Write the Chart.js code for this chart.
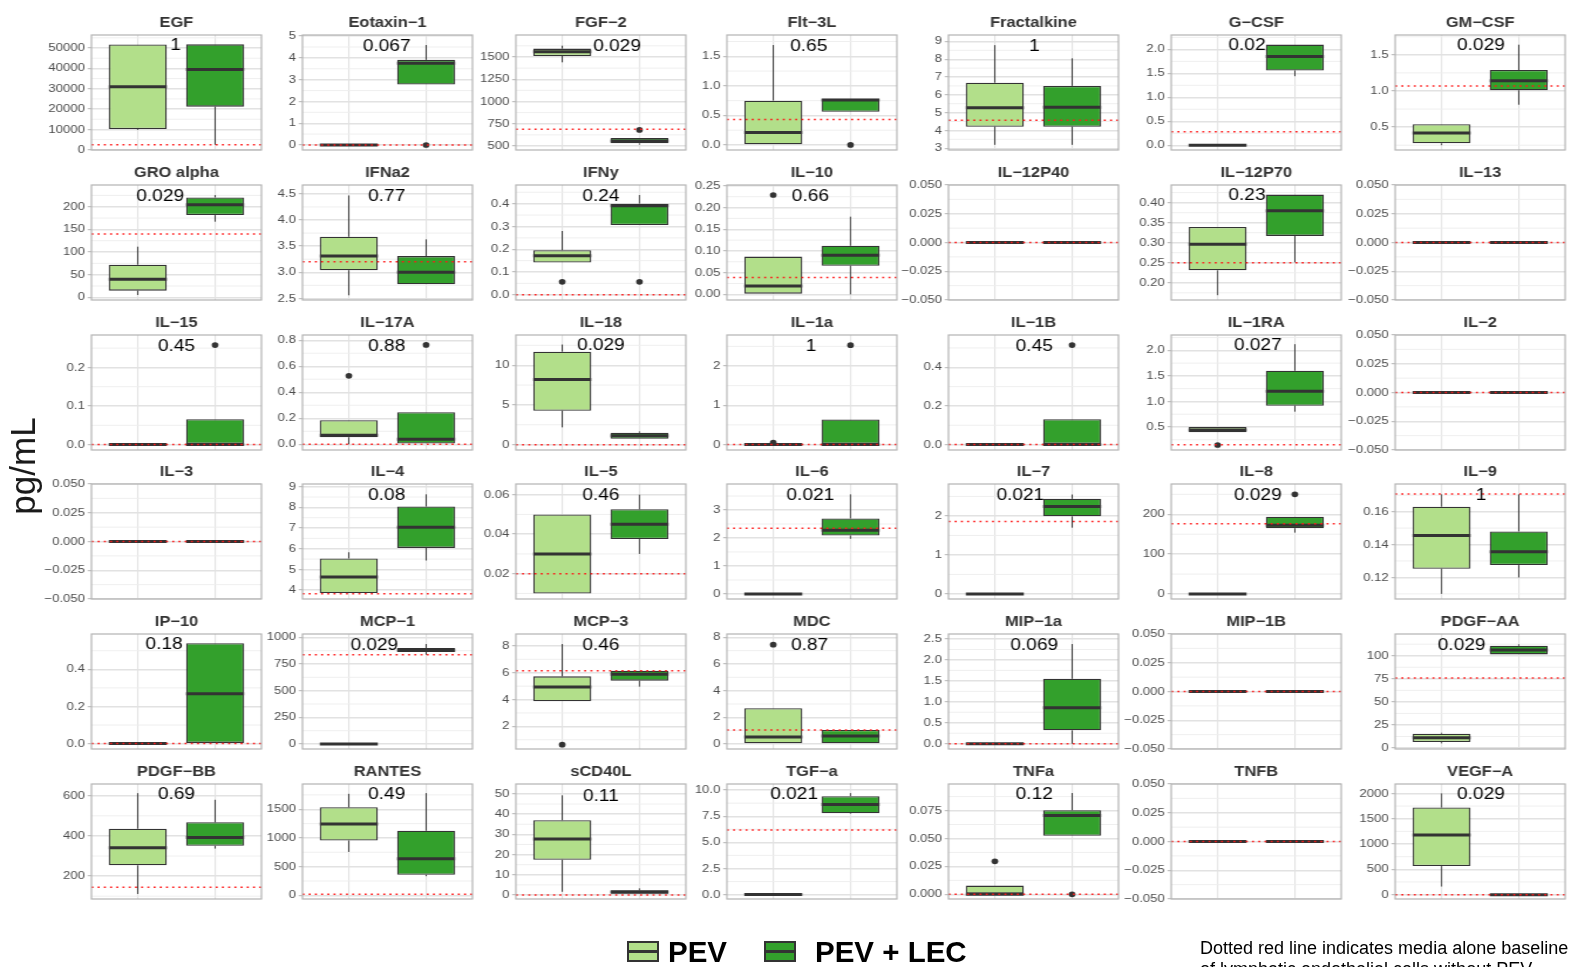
<!DOCTYPE html>
<html>
<head>
<meta charset="utf-8">
<title>Cytokine panel</title>
<script src="https://cdn.jsdelivr.net/npm/chart.js@4.4.1/dist/chart.umd.min.js"></script>
<style>
  html, body { margin: 0; padding: 0; background: #fff; }
  body { width: 1569px; height: 967px; position: relative; overflow: hidden;
         font-family: 'Liberation Sans', Arial, sans-serif; }
  #grid { position: absolute; left: 0; top: 0; height: 967px; transform-origin: 0 0; }
  #grid canvas { position: absolute; }
  #ylab { position: absolute; left: -37px; top: 446px; width: 120px; height: 40px;
          line-height: 40px; text-align: center; font-size: 35px; color: #1a1a1a;
          transform: rotate(-90deg); white-space: nowrap; }
  .key { position: absolute; top: 941px; width: 28px; height: 17px; border: 2px solid #333; }
  .key::after { content: ''; position: absolute; left: 0; right: 0; top: 7px; height: 3px; background: #333; }
  .ltxt { position: absolute; top: 935.5px; font-size: 29.5px; font-weight: bold;
          line-height: 1.117; color: #000; white-space: nowrap; }
  .note { position: absolute; left: 1200px; top: 938.3px; font-size: 18px; line-height: 21px;
          color: #000; white-space: nowrap; }
</style>
</head>
<body>
<div id="grid"></div>
<div id="ylab">pg/mL</div>
<div class="key" style="left:627px;background:#b2df8a"></div>
<div class="ltxt" style="left:668px">PEV</div>
<div class="key" style="left:764px;background:#33a02c"></div>
<div class="ltxt" style="left:815px">PEV + LEC</div>
<div class="note">Dotted red line indicates media alone baseline<br>of lymphatic endothelial cells without PEV</div>

<script>
// Analytes, one panel each, row by row
const analytes = ['EGF','Eotaxin-1','FGF-2','Flt-3L','Fractalkine','G-CSF','GM-CSF',
  'GRO alpha','IFNa2','IFNy','IL-10','IL-12P40','IL-12P70','IL-13',
  'IL-15','IL-17A','IL-18','IL-1a','IL-1B','IL-1RA','IL-2',
  'IL-3','IL-4','IL-5','IL-6','IL-7','IL-8','IL-9',
  'IP-10','MCP-1','MCP-3','MDC','MIP-1a','MIP-1B','PDGF-AA',
  'PDGF-BB','RANTES','sCD40L','TGF-a','TNFa','TNFB','VEGF-A'];

const groups = ['PEV', 'PEV + LEC'];

// Box statistics per analyte: [lower whisker, Q1, median, Q3, upper whisker]
const pevStats = [
  [9800, 10200, 31000, 51700, 51700],
  [0, 0, 0, 0, 0],
  [1440, 1511, 1560, 1594, 1627],
  [0, 0, 0.21, 0.75, 1.69],
  [3.19, 4.21, 5.28, 6.68, 8.79],
  [0, 0, 0, 0, 0],
  [0.25, 0.277, 0.42, 0.54, 0.54],
  [5.1, 14.7, 39.7, 72, 111.8],
  [2.56, 3.04, 3.31, 3.68, 4.47],
  [0.142, 0.142, 0.171, 0.196, 0.28],
  [0, 0, 0.019, 0.087, 0.087],
  [0, 0, 0, 0, 0],
  [0.169, 0.231, 0.296, 0.339, 0.339],
  [0, 0, 0, 0, 0],
  [0, 0, 0, 0, 0],
  [0, 0.054, 0.069, 0.185, 0.185],
  [2.18, 4.27, 8.2, 11.7, 12.6],
  [0, 0, 0, 0, 0],
  [0, 0, 0, 0, 0],
  [0.396, 0.396, 0.44, 0.5, 0.5],
  [0, 0, 0, 0, 0],
  [0, 0, 0, 0, 0],
  [3.86, 3.86, 4.63, 5.53, 5.83],
  [0.01, 0.01, 0.03, 0.05, 0.05],
  [0, 0, 0, 0, 0],
  [0, 0, 0, 0, 0],
  [0, 0, 0, 0, 0],
  [0.11, 0.1253, 0.1455, 0.163, 0.1705],
  [0, 0, 0, 0, 0],
  [0, 0, 0, 0, 0],
  [3.87, 3.87, 4.94, 5.73, 8.14],
  [0, 0, 0.53, 2.68, 2.68],
  [0, 0, 0, 0, 0],
  [0, 0, 0, 0, 0],
  [5.1, 6.5, 11.2, 15.5, 16.6],
  [111, 253.6, 340.6, 436, 613],
  [756, 955, 1242, 1535, 1769],
  [1.6, 17.4, 27.7, 37.0, 49.3],
  [0, 0, 0, 0, 0],
  [0, 0, 0, 0.0078, 0.0078],
  [0, 0, 0, 0, 0],
  [160, 565, 1176, 1721, 2000]
];

const lecStats = [
  [2500, 21200, 39500, 51800, 51800],
  [2.78, 2.78, 3.75, 3.91, 4.59],
  [515, 530, 556, 590, 590],
  [0.56, 0.56, 0.76, 0.78, 0.78],
  [3.19, 4.21, 5.3, 6.5, 8.05],
  [1.44, 1.56, 1.85, 2.10, 2.10],
  [0.81, 1.01, 1.14, 1.29, 1.64],
  [167, 181.6, 204.4, 220.6, 225.7],
  [2.77, 2.77, 3.0, 3.31, 3.63],
  [0.306, 0.306, 0.391, 0.40, 0.438],
  [0, 0.066, 0.09, 0.112, 0.179],
  [0, 0, 0, 0, 0],
  [0.251, 0.317, 0.38, 0.42, 0.42],
  [0, 0, 0, 0, 0],
  [0, 0, 0, 0.0655, 0.0655],
  [0, 0, 0.038, 0.246, 0.246],
  [0.75, 0.75, 1.13, 1.5, 1.67],
  [0, 0, 0, 0.64, 0.64],
  [0, 0, 0, 0.131, 0.131],
  [0.8, 0.917, 1.2, 1.6, 2.12],
  [0, 0, 0, 0, 0],
  [0, 0, 0, 0, 0],
  [5.43, 6.04, 7.04, 8.04, 8.63],
  [0.03, 0.0376, 0.045, 0.0526, 0.06],
  [1.97, 2.09, 2.28, 2.7, 3.56],
  [1.7, 1.99, 2.24, 2.44, 2.55],
  [154, 165, 172.5, 194, 194],
  [0.12, 0.1275, 0.1356, 0.148, 0.1705],
  [0, 0, 0.269, 0.54, 0.54],
  [837, 862, 878, 900, 937],
  [4.96, 5.41, 5.88, 6.15, 6.15],
  [0, 0, 0.6, 1.05, 1.05],
  [0, 0.318, 0.86, 1.55, 2.38],
  [0, 0, 0, 0, 0],
  [101.4, 101.4, 106.1, 110.8, 112.3],
  [337, 350.6, 392.5, 467.8, 580],
  [334, 357, 638, 1125, 1781],
  [0.66, 0.66, 1.5, 2.3, 3.3],
  [7.72, 7.78, 8.62, 9.42, 9.71],
  [0.0524, 0.0524, 0.0705, 0.0753, 0.0907],
  [0, 0, 0, 0, 0],
  [0, 0, 0, 0, 0]
];

// Outlying samples
const pevOutliers = [[],[],[],[],[],[],[], [],[],[0.057],[0.229],[],[],[],
  [],[0.526],[],[0.05],[],[0.148],[], [],[],[],[],[],[],[],
  [],[],[0.63],[7.45],[],[],[], [],[],[],[],[0.0295],[],[]];
const lecOutliers = [[],[0],[680],[0],[],[],[], [],[],[0.057],[],[],[],[],
  [0.258],[0.764],[],[2.53],[0.515],[],[], [],[],[],[],[],[250],[],
  [],[],[],[],[],[],[], [],[],[],[],[0],[],[]];

// Media-alone baseline of lymphatic endothelial cells
const baseline = [2500, 0, 687, 0.43, 4.57, 0.28, 1.07,
  139.7, 3.2, 0, 0.039, 0, 0.25, 0,
  0, 0, 0, 0, 0, 0.154, 0,
  0, 3.82, 0.02, 2.35, 1.855, 176, 0.1707,
  0, 837, 6.15, 1.05, 0, 0, 76,
  144.8, 18, 0, 6.17, 0, 0, 0];

// Group comparison p-values (blank where both groups are all zero)
const pValues = ['1','0.067','0.029','0.65','1','0.02','0.029',
  '0.029','0.77','0.24','0.66','','0.23','',
  '0.45','0.88','0.029','1','0.45','0.027','',
  '','0.08','0.46','0.021','0.021','0.029','1',
  '0.18','0.029','0.46','0.87','0.069','','0.029',
  '0.69','0.49','0.11','0.021','0.12','','0.029'];

// Horizontal anchor of each p-value label, in group-axis units
const pLabelX = [1.49,1.49,1.71,1.46,1.51,1.38,1.51,
  1.29,1.49,1.5,1.48,1.5,1.38,1.5,
  1.5,1.49,1.5,1.49,1.51,1.52,1.5,
  1.5,1.49,1.5,1.48,1.33,1.52,1.51,
  1.34,1.33,1.5,1.47,1.51,1.5,1.26,
  1.5,1.49,1.5,1.27,1.51,1.5,1.51];

// Free y scale of each panel
const yLimits = [[-100, 56400],[-0.23, 5.05],[455, 1747],[-0.085, 1.86],[2.9, 9.36],[-0.1, 2.3],[0.184, 1.774],
  [-5.9, 248],[2.47, 4.67],[-0.023, 0.482],[-0.013, 0.252],[-0.05, 0.05],[0.157, 0.444],[-0.05, 0.05],
  [-0.014, 0.284],[-0.044, 0.84],[-0.67, 13.8],[-0.14, 2.79],[-0.028, 0.567],[0.05, 2.3],[-0.05, 0.05],
  [-0.05, 0.05],[3.57, 9.13],[0.0072, 0.0654],[-0.18, 3.93],[-0.13, 2.82],[-12.5, 276],[0.1069, 0.1768],
  [-0.029, 0.59],[-47, 1031],[0.31, 8.89],[-0.375, 8.25],[-0.127, 2.62],[-0.05, 0.05],[-1, 123.5],
  [86, 658.6],[-64, 1940],[-1.97, 54.9],[-0.42, 10.58],[-0.0042, 0.0988],[-0.05, 0.05],[-86, 2186]];

const zeroTicks = [-0.05, -0.025, 0, 0.025, 0.05];
const yTicks = [
  [0,10000,20000,30000,40000,50000],[0,1,2,3,4,5],[500,750,1000,1250,1500],[0,0.5,1,1.5],
  [3,4,5,6,7,8,9],[0,0.5,1,1.5,2],[0.5,1,1.5],
  [0,50,100,150,200],[2.5,3,3.5,4,4.5],[0,0.1,0.2,0.3,0.4],[0,0.05,0.1,0.15,0.2,0.25],
  zeroTicks,[0.2,0.25,0.3,0.35,0.4],zeroTicks,
  [0,0.1,0.2],[0,0.2,0.4,0.6,0.8],[0,5,10],[0,1,2],[0,0.2,0.4],[0.5,1,1.5,2],zeroTicks,
  zeroTicks,[4,5,6,7,8,9],[0.02,0.04,0.06],[0,1,2,3],[0,1,2],[0,100,200],[0.12,0.14,0.16],
  [0,0.2,0.4],[0,250,500,750,1000],[2,4,6,8],[0,2,4,6,8],[0,0.5,1,1.5,2,2.5],zeroTicks,[0,25,50,75,100],
  [200,400,600],[0,500,1000,1500],[0,10,20,30,40,50],[0,2.5,5,7.5,10],[0,0.025,0.05,0.075],zeroTicks,
  [0,500,1000,1500,2000]];
const tickDigits = [0,0,0,1,0,1,1, 0,1,1,2,3,2,3, 1,1,0,0,1,1,3, 3,0,2,0,0,0,2,
  1,0,0,0,1,3,0, 0,0,0,1,3,3,0];

// ---- layout and styling ----
const FONT = "'Liberation Sans', Arial, sans-serif";
const PEV_FILL = '#b2df8a', LEC_FILL = '#33a02c', INK = '#333333';
const GRID_MAJOR = '#e2e2e2', GRID_MINOR = '#ededed', FRAME = '#b3b3b3';
const COL_LEFT = [91, 303, 516, 727, 948, 1171, 1395];
const ROW_TOP = [35, 185, 335, 484, 634, 784];
const PANEL_W = 145, PANEL_H = 115;     // plot area, before horizontal stretch
const STRETCH = 170 / PANEL_W;           // panel grid is drawn widened horizontally
const AXIS_W = 50, TOP_PAD = 30, RIGHT_PAD = 3, BOTTOM_PAD = 9;

Chart.defaults.font.family = FONT;

const gridEl = document.getElementById('grid');
gridEl.style.width = (1569 / STRETCH) + 'px';
gridEl.style.transform = 'scaleX(' + STRETCH + ')';

function fmtTick(v, d) {
  return (v < -1e-12 ? '\u2212' : '') + Math.abs(v).toFixed(d);
}

function strokeLine(ctx, x1, y1, x2, y2) {
  ctx.beginPath(); ctx.moveTo(x1, y1); ctx.lineTo(x2, y2); ctx.stroke();
}

function panelPlugin(i) {
  const stats = [pevStats[i], lecStats[i]];
  const outs = [pevOutliers[i], lecOutliers[i]];
  return {
    id: 'boxpanel' + i,
    beforeDatasetsDraw(chart) {
      const { ctx, chartArea: a, scales: { x, y } } = chart;
      ctx.save();
      // minor gridlines halfway between labelled ticks
      const t = yTicks[i], step = t[1] - t[0];
      ctx.strokeStyle = GRID_MINOR; ctx.lineWidth = 0.9;
      for (let k = -1; k < t.length; k++) {
        const v = t[0] + (k + 0.5) * step;
        if (v <= yLimits[i][0] || v >= yLimits[i][1]) continue;
        const py = y.getPixelForValue(v);
        strokeLine(ctx, a.left, py, a.right, py);
      }
      // whiskers
      ctx.strokeStyle = INK; ctx.lineWidth = 1.15 / STRETCH;
      stats.forEach((s, g) => {
        const px = x.getPixelForValue(g + 1);
        if (s[4] > s[3]) strokeLine(ctx, px, y.getPixelForValue(s[3]), px, y.getPixelForValue(s[4]));
        if (s[0] < s[1]) strokeLine(ctx, px, y.getPixelForValue(s[1]), px, y.getPixelForValue(s[0]));
      });
      ctx.restore();
    },
    afterDatasetsDraw(chart) {
      const { ctx, chartArea: a, scales: { x, y } } = chart;
      ctx.save();
      // medians
      ctx.strokeStyle = INK; ctx.lineWidth = 3; ctx.lineCap = 'butt';
      stats.forEach((s, g) => {
        const py = y.getPixelForValue(s[2]);
        strokeLine(ctx, x.getPixelForValue(g + 1 - 0.375), py, x.getPixelForValue(g + 1 + 0.375), py);
      });
      // outliers
      ctx.fillStyle = INK;
      outs.forEach((list, g) => {
        list.forEach(v => {
          ctx.beginPath();
          ctx.arc(x.getPixelForValue(g + 1), y.getPixelForValue(v), 2.85, 0, Math.PI * 2);
          ctx.fill();
        });
      });
      // media-alone baseline
      const by = y.getPixelForValue(baseline[i]);
      ctx.strokeStyle = '#ff1a1a'; ctx.lineWidth = 1.5;
      ctx.setLineDash([1.7, 3.6]);
      strokeLine(ctx, a.left, by, a.right, by);
      ctx.setLineDash([]);
      // p-value
      if (pValues[i]) {
        const top = Math.max(stats[0][4], stats[1][4], ...outs[0], ...outs[1]);
        ctx.font = '16.3px ' + FONT;
        ctx.fillStyle = '#000';
        ctx.textAlign = 'center';
        ctx.textBaseline = 'alphabetic';
        ctx.fillText(pValues[i], x.getPixelForValue(pLabelX[i]), y.getPixelForValue(top) + 5.8);
      }
      ctx.restore();
    },
    afterDraw(chart) {
      const { ctx, chartArea: a } = chart;
      ctx.save();
      ctx.strokeStyle = FRAME; ctx.lineWidth = 1.2;
      ctx.strokeRect(a.left, a.top, a.right - a.left, a.bottom - a.top);
      ctx.font = 'bold 14px ' + FONT;
      ctx.fillStyle = INK;
      ctx.textAlign = 'center';
      ctx.textBaseline = 'alphabetic';
      ctx.fillText(analytes[i].replace(/-/g, '\u2212'), (a.left + a.right) / 2, a.top - 8.3);
      ctx.restore();
    }
  };
}

analytes.forEach((name, i) => {
  const r = Math.floor(i / 7), c = i % 7;
  const cv = document.createElement('canvas');
  cv.width = AXIS_W + PANEL_W + RIGHT_PAD;
  cv.height = TOP_PAD + PANEL_H + BOTTOM_PAD;
  cv.style.left = (COL_LEFT[c] / STRETCH - AXIS_W) + 'px';
  cv.style.top = (ROW_TOP[r] - TOP_PAD) + 'px';
  gridEl.appendChild(cv);

  const p = pevStats[i], l = lecStats[i];
  new Chart(cv, {
    type: 'bar',
    data: {
      datasets: [{
        label: name,
        data: [{ x: 1, y: [p[1], p[3]] }, { x: 2, y: [l[1], l[3]] }],
        backgroundColor: [PEV_FILL, LEC_FILL],
        borderColor: INK,
        borderWidth: 1.3,
        borderSkipped: false,
        barPercentage: 0.75,
        categoryPercentage: 1
      }]
    },
    options: {
      responsive: false,
      animation: false,
      devicePixelRatio: 1,
      events: [],
      layout: { padding: { left: 0, top: TOP_PAD, right: RIGHT_PAD, bottom: BOTTOM_PAD } },
      plugins: { legend: { display: false }, tooltip: { enabled: false }, title: { display: false } },
      scales: {
        x: {
          type: 'linear', min: 0.4, max: 2.6, offset: false,
          afterBuildTicks: ax => { ax.ticks = [{ value: 1 }, { value: 2 }]; },
          afterFit: ax => { ax.height = 0; ax.paddingLeft = 0; ax.paddingRight = 0; },
          ticks: { display: false },
          border: { display: false },
          grid: { offset: false, color: GRID_MAJOR, lineWidth: 1.1, drawTicks: false }
        },
        y: {
          type: 'linear', min: yLimits[i][0], max: yLimits[i][1], beginAtZero: false,
          afterBuildTicks: ax => { ax.ticks = yTicks[i].map(v => ({ value: v })); },
          afterFit: ax => { ax.width = AXIS_W; ax.paddingTop = 0; ax.paddingBottom = 0; },
          ticks: {
            autoSkip: false, padding: 2.4, color: '#4d4d4d',
            font: { family: FONT, size: 11.2 },
            callback: v => fmtTick(v, tickDigits[i])
          },
          border: { display: false },
          grid: { color: GRID_MAJOR, lineWidth: 1.4, tickLength: 3.2, tickColor: FRAME, tickWidth: 1 }
        }
      }
    },
    plugins: [panelPlugin(i)]
  });
});
</script>
</body>
</html>
